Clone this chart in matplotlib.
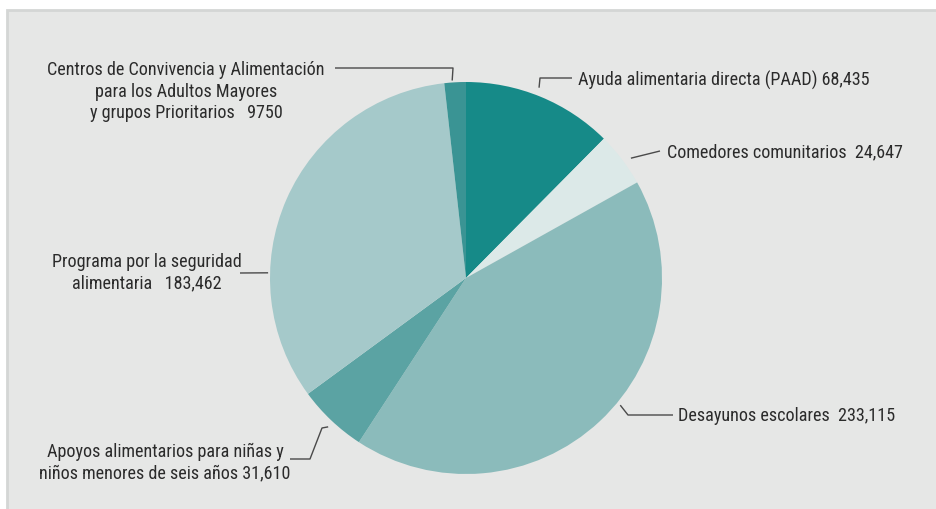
import numpy as np
import matplotlib
matplotlib.use("Agg")
import matplotlib.pyplot as plt
import matplotlib.font_manager as fm
from matplotlib.patches import Rectangle

# Data: programas alimentarios
programs = [
    "Ayuda alimentaria directa (PAAD)",
    "Comedores comunitarios",
    "Desayunos escolares",
    "Apoyos alimentarios para niñas y niños menores de seis años",
    "Programa por la seguridad alimentaria",
    "Centros de Convivencia y Alimentación para los Adultos Mayores y grupos Prioritarios",
]
values = [68435, 24647, 233115, 31610, 183462, 9750]
colors = ["#168a88", "#dce9e8", "#8bbbbb", "#5ba3a3", "#a5c9ca", "#3a9494"]

# Label text, one entry per line
label_lines = [
    ["Ayuda alimentaria directa (PAAD) 68,435"],
    ["Comedores comunitarios  24,647"],
    ["Desayunos escolares  233,115"],
    ["Apoyos alimentarios para niñas y", "niños menores de seis años 31,610"],
    ["Programa por la seguridad", "alimentaria   183,462"],
    ["Centros de Convivencia y Alimentación", "para los Adultos Mayores", "y grupos Prioritarios   9750"],
]

W, H = 936, 509


def pick_font():
    # look for a condensed / narrow sans, the reference uses a condensed face
    good = []
    for f in fm.fontManager.ttflist:
        cond = ("Condensed" in f.name or "Narrow" in f.name
                or str(f.stretch) in ("condensed", "semi-condensed", "extra-condensed"))
        if not cond or f.style != "normal":
            continue
        if str(f.weight) not in ("400", "normal", "regular", "book"):
            continue
        if "Mono" in f.name or "Serif" in f.name or "Semi" in f.name:
            continue
        good.append(f)
    order = ["Roboto", "Open Sans", "Noto Sans", "Liberation", "DejaVu"]
    good.sort(key=lambda f: next((i for i, n in enumerate(order) if n in f.name), 99))
    if good:
        return fm.FontProperties(fname=good[0].fname)
    return fm.FontProperties(family="Liberation Sans")


fp = pick_font()

fig = plt.figure(figsize=(W / 100, H / 100), dpi=100)
ax = fig.add_axes([0, 0, 1, 1])


def Y(py):
    # pixel row (from top) -> data y
    return H - py


# gray panel
ax.add_patch(Rectangle((7, -5), W, Y(10) + 5, facecolor="#e6e7e6",
                       edgecolor="#d4d6d5", linewidth=2, zorder=0))

cx, cy, R = 466, Y(278), 196
ax.pie(values, colors=colors, startangle=90, counterclock=False,
       center=(cx, cy), radius=R, frame=True,
       wedgeprops=dict(linewidth=0))
ax.set_xlim(0, W)
ax.set_ylim(0, H)
ax.set_aspect("equal")
ax.axis("off")

# size the font so the longest single line is as wide as in the reference
probe = ax.text(0, 0, label_lines[0][0], fontproperties=fp, fontsize=14)
rend = fig.canvas.get_renderer()
pw = probe.get_window_extent(rend).width
probe.remove()
fsize = 14 * 294 / pw
fp.set_size(fsize)


def edge(angle, rf):
    # angle clockwise from 12 o'clock, rf = fraction of radius
    a = np.deg2rad(angle)
    return cx + R * rf * np.sin(a), cy + R * rf * np.cos(a)


# leader lines: anchor on the pie, then bend points (pixel coords)
leaders = [
    ((21, 1.04), [(540, 78), (572, 78)]),
    ((54, 1.04), [(660, 151)]),
    ((129.5, 1.02), [(628, 415), (673, 415)]),
    ((222.8, 1.035), [(322, 428), (310, 459), (290, 459)]),
    ((271.5, 1.01), [(240, 273)]),
    ((356, 1.01), [(453, 68), (335, 68)]),
]
for (ang, rf), pts in leaders:
    x0, y0 = edge(ang, rf)
    xs = [x0] + [p[0] for p in pts]
    ys = [y0] + [Y(p[1]) for p in pts]
    ax.plot(xs, ys, color="#4a4a4a", lw=1, solid_capstyle="butt", zorder=3)

# label positions: (x, first baseline, ha)
label_pos = [
    (578, 86, "left"),
    (667, 157, "left"),
    (678, 421, "left"),
    (165, 457, "center"),
    (147, 267, "center"),
    (186, 75, "center"),
]
step = 21.5
for lines, (x, yb, ha) in zip(label_lines, label_pos):
    for i, line in enumerate(lines):
        ax.text(x, Y(yb + i * step), line, ha=ha, va="baseline",
                fontproperties=fp, color="#2b2b2b", zorder=4)

fig.savefig("out.png", dpi=100, facecolor="white")
